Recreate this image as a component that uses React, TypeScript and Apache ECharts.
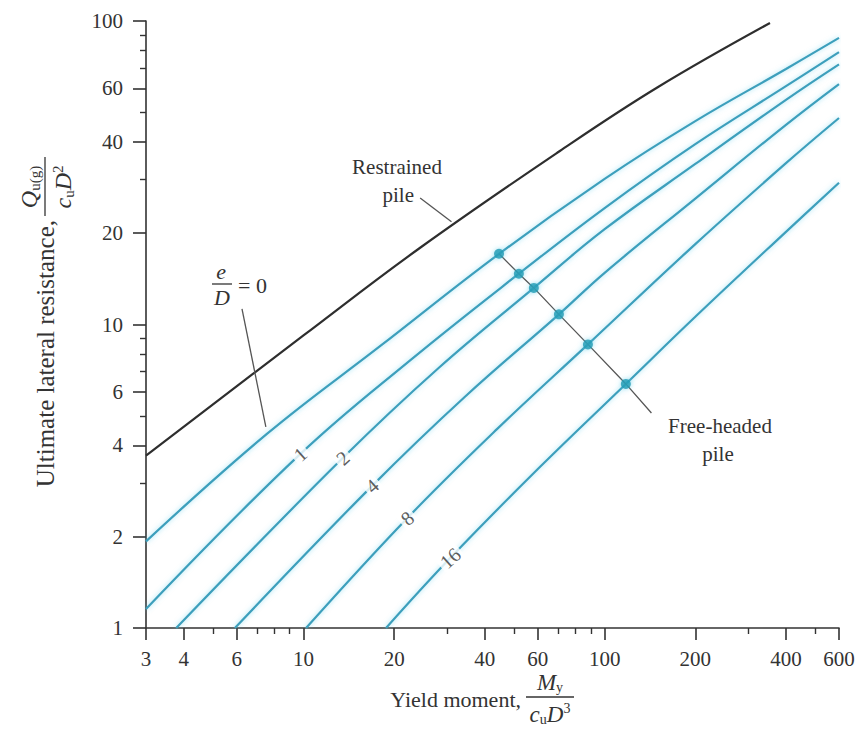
import React, { useEffect, useRef } from 'react';
import * as echarts from 'echarts';

// ---- axis ticks ----
const xMajorTicks = [3, 4, 6, 10, 20, 40, 60, 100, 200, 400, 600];
const xMinorTicks = [5, 7, 8, 9, 30, 50, 70, 80, 90, 300, 500];
const yMajorTicks = [1, 2, 4, 6, 10, 20, 40, 60, 100];
const yMinorTicks = [3, 5, 7, 8, 9, 30, 50, 70, 80, 90];

// ---- curves [My/(cu D^3), Qu(g)/(cu D^2)] ----
const restrainedPile = [[3, 3.7], [10, 9.2], [24.4, 17.9], [71, 37.3], [150, 60.5], [354, 98.5]];
const eD0 = [[3, 1.93], [7.56, 4.36], [18, 8.5], [44.6, 17.1], [100, 30.2], [200, 46.8], [400, 69.5], [600, 88]];
const eD1 = [[3, 1.155], [9.75, 3.74], [22.6, 7.62], [51.9, 14.7], [100, 24.2], [200, 39.3], [400, 61], [600, 79]];
const eD2 = [[3.78, 1], [13.5, 3.63], [28.1, 7.19], [58.2, 13.2], [100, 20.6], [200, 33.8], [400, 55], [600, 72]];
const eD4 = [[5.92, 1], [16.9, 2.94], [34.3, 5.77], [70.5, 10.8], [100, 14.8], [200, 26], [400, 45.5], [600, 62]];
const eD8 = [[10.2, 1], [22.1, 2.3], [43.9, 4.52], [88, 8.6], [200, 18.4], [400, 34], [600, 47.9]];
const eD16 = [[18.8, 1], [30.7, 1.7], [60, 3.34], [117.6, 6.37], [200, 10.6], [400, 20.2], [600, 29.3]];

// free-headed pile limit points and leader end
const freeHeadDots = [[44.6, 17.1], [51.9, 14.7], [58.2, 13.2], [70.5, 10.8], [88, 8.6], [117.6, 6.37]];
const freeHeadLeaderEnd = [143, 5.11];

// curve labels (e/D values) placed on their curves
const curveLabelTexts = ['1', '2', '4', '8', '16'];
const curveLabelX = [9.75, 13.5, 16.9, 22.1, 30.7];
const curveLabelY = [3.74, 3.63, 2.94, 2.3, 1.7];

// leader lines for annotations
const eD0Leader = [[6.25, 11.26], [7.5, 4.6]];
const restrainedLeader = [[24.4, 26.1], [31, 21.8]];

const FONT = '"Liberation Serif", "DejaVu Serif", serif';
const INK = '#333333';
const BLUE = '#3d9fbc';

const fmt = (v: number) => String(+Number(v).toPrecision(6));

export default function App() {
  const ref = useRef<HTMLDivElement>(null);
  useEffect(() => {
    const chart = echarts.init(ref.current!, null, { renderer: 'svg' });

    const blueLine = (name: string, data: number[][]) => ({
      name,
      type: 'line',
      data,
      showSymbol: false,
      smooth: 0.4,
      silent: true,
      z: 2,
      lineStyle: { color: BLUE, width: 2.2, shadowColor: 'rgba(90,205,235,0.6)', shadowBlur: 5 },
    });
    const thinLine = (name: string, data: number[][]) => ({
      name,
      type: 'line',
      data,
      showSymbol: false,
      silent: true,
      z: 3,
      lineStyle: { color: '#555', width: 1.3 },
    });

    const xAxisBase = {
      type: 'log',
      logBase: 10,
      min: 3,
      max: 600,
      position: 'bottom',
      splitLine: { show: false },
      minorTick: { show: false },
      minorSplitLine: { show: false },
    };
    const yAxisBase = {
      type: 'log',
      logBase: 10,
      min: 1,
      max: 100,
      position: 'left',
      splitLine: { show: false },
      minorTick: { show: false },
      minorSplitLine: { show: false },
    };

    const titleText = (extra: any) => ({ fontFamily: FONT, fill: INK, ...extra });

    const option: any = {
      animation: false,
      backgroundColor: '#ffffff',
      grid: { left: 146, right: 24, top: 21, bottom: 110, containLabel: false, outerBoundsMode: 'none' },
      xAxis: [
        {
          ...xAxisBase,
          axisLine: { show: true, lineStyle: { color: INK, width: 1.6 } },
          axisTick: { show: true, customValues: xMajorTicks, length: 12, lineStyle: { color: INK, width: 1.6 } },
          axisLabel: {
            show: true,
            customValues: xMajorTicks,
            formatter: fmt,
            fontFamily: FONT,
            fontSize: 21,
            color: INK,
            margin: 20,
          },
        },
        {
          ...xAxisBase,
          axisLine: { show: false },
          axisTick: { show: true, customValues: xMinorTicks, length: 6, lineStyle: { color: INK, width: 1.4 } },
          axisLabel: { show: false },
        },
      ],
      yAxis: [
        {
          ...yAxisBase,
          axisLine: { show: true, lineStyle: { color: INK, width: 1.6 } },
          axisTick: { show: true, customValues: yMajorTicks, length: 13, lineStyle: { color: INK, width: 1.6 } },
          axisLabel: {
            show: true,
            customValues: yMajorTicks,
            formatter: fmt,
            fontFamily: FONT,
            fontSize: 21,
            color: INK,
            margin: 23,
          },
        },
        {
          ...yAxisBase,
          axisLine: { show: false },
          axisTick: { show: true, customValues: yMinorTicks, length: 6, lineStyle: { color: INK, width: 1.4 } },
          axisLabel: { show: false },
        },
      ],
      series: [
        {
          name: 'Restrained pile',
          type: 'line',
          data: restrainedPile,
          showSymbol: false,
          smooth: 0.4,
          silent: true,
          z: 2,
          lineStyle: { color: '#2e2e2e', width: 2.2 },
        },
        blueLine('e/D = 0', eD0),
        blueLine('e/D = 1', eD1),
        blueLine('e/D = 2', eD2),
        blueLine('e/D = 4', eD4),
        blueLine('e/D = 8', eD8),
        blueLine('e/D = 16', eD16),
        thinLine('Free-headed pile', [...freeHeadDots, freeHeadLeaderEnd]),
        thinLine('e/D leader', eD0Leader),
        thinLine('Restrained leader', restrainedLeader),
        {
          name: 'Free-headed limit',
          type: 'scatter',
          data: freeHeadDots,
          symbolSize: 10,
          silent: true,
          z: 4,
          itemStyle: { color: '#1d9ab3', shadowColor: 'rgba(90,205,235,0.7)', shadowBlur: 5 },
        },
        {
          name: 'curve labels',
          type: 'scatter',
          data: curveLabelTexts.map((t, i) => ({ name: t, value: [curveLabelX[i], curveLabelY[i]] })),
          symbolSize: 1,
          silent: true,
          z: 6,
          itemStyle: { color: 'rgba(0,0,0,0)' },
          label: {
            show: true,
            position: 'inside',
            formatter: (p: any) => p.name,
            rotate: 42,
            fontFamily: FONT,
            fontSize: 20,
            color: INK,
            backgroundColor: '#ffffff',
            padding: [0, 3],
          },
        },
      ],
      graphic: [
        // Restrained pile annotation
        { type: 'text', x: 397, y: 167, style: titleText({ text: 'Restrained', fontSize: 21, align: 'center', verticalAlign: 'middle' }) },
        { type: 'text', x: 414, y: 195, style: titleText({ text: 'pile', fontSize: 21, align: 'right', verticalAlign: 'middle' }) },
        // Free-headed pile annotation
        { type: 'text', x: 720, y: 426, style: titleText({ text: 'Free-headed', fontSize: 21, align: 'center', verticalAlign: 'middle' }) },
        { type: 'text', x: 718, y: 454, style: titleText({ text: 'pile', fontSize: 21, align: 'center', verticalAlign: 'middle' }) },
        // e/D = 0
        { type: 'text', x: 221, y: 271, style: titleText({ text: 'e', fontSize: 22, fontStyle: 'italic', align: 'center', verticalAlign: 'middle' }) },
        { type: 'line', shape: { x1: 212, y1: 284, x2: 232, y2: 284 }, style: { stroke: INK, lineWidth: 1.3 } },
        { type: 'text', x: 222, y: 297, style: titleText({ text: 'D', fontSize: 22, fontStyle: 'italic', align: 'center', verticalAlign: 'middle' }) },
        { type: 'text', x: 238, y: 285, style: titleText({ text: '= 0', fontSize: 22, align: 'left', verticalAlign: 'middle' }) },
        // Y axis title (rotated)
        {
          type: 'group',
          x: 45,
          y: 320,
          rotation: Math.PI / 2,
          children: [
            { type: 'text', x: 100, y: 0, style: titleText({ text: 'Ultimate lateral resistance,', fontSize: 25, align: 'right', verticalAlign: 'middle' }) },
            { type: 'line', shape: { x1: 104, y1: 0, x2: 163, y2: 0 }, style: { stroke: INK, lineWidth: 1.3 } },
            {
              type: 'text',
              x: 133,
              y: -16,
              style: titleText({
                text: '{i|Q}{s|u(g)}',
                align: 'center',
                verticalAlign: 'middle',
                rich: {
                  i: { fontFamily: FONT, fontSize: 24, fontStyle: 'italic', lineHeight: 26, fill: INK },
                  s: { fontFamily: FONT, fontSize: 15, lineHeight: 10, verticalAlign: 'bottom', fill: INK },
                },
              }),
            },
            {
              type: 'text',
              x: 133,
              y: 18,
              style: titleText({
                text: '{i|c}{s|u}{i|D}{p|2}',
                align: 'center',
                verticalAlign: 'middle',
                rich: {
                  i: { fontFamily: FONT, fontSize: 24, fontStyle: 'italic', lineHeight: 26, fill: INK },
                  s: { fontFamily: FONT, fontSize: 15, lineHeight: 10, verticalAlign: 'bottom', fill: INK },
                  p: { fontFamily: FONT, fontSize: 15, lineHeight: 10, verticalAlign: 'top', fill: INK },
                },
              }),
            },
          ],
        },
        // X axis title
        { type: 'text', x: 521, y: 699, style: titleText({ text: 'Yield moment,', fontSize: 22, align: 'right', verticalAlign: 'middle' }) },
        { type: 'line', shape: { x1: 526, y1: 697, x2: 574, y2: 697 }, style: { stroke: INK, lineWidth: 1.3 } },
        {
          type: 'text',
          x: 550,
          y: 682,
          style: titleText({
            text: '{i|M}{s|y}',
            align: 'center',
            verticalAlign: 'middle',
            rich: {
              i: { fontFamily: FONT, fontSize: 23, fontStyle: 'italic', lineHeight: 25, fill: INK },
              s: { fontFamily: FONT, fontSize: 14, lineHeight: 10, verticalAlign: 'bottom', fill: INK },
            },
          }),
        },
        {
          type: 'text',
          x: 550,
          y: 714,
          style: titleText({
            text: '{i|c}{s|u}{i|D}{p|3}',
            align: 'center',
            verticalAlign: 'middle',
            rich: {
              i: { fontFamily: FONT, fontSize: 23, fontStyle: 'italic', lineHeight: 25, fill: INK },
              s: { fontFamily: FONT, fontSize: 14, lineHeight: 10, verticalAlign: 'bottom', fill: INK },
              p: { fontFamily: FONT, fontSize: 14, lineHeight: 10, verticalAlign: 'top', fill: INK },
            },
          }),
        },
      ],
    };

    chart.setOption(option);
    return () => chart.dispose();
  }, []);

  return (
    <div
      ref={ref}
      style={{ position: 'fixed', left: 0, top: 0, width: 863, height: 738, background: '#ffffff' }}
    />
  );
}
